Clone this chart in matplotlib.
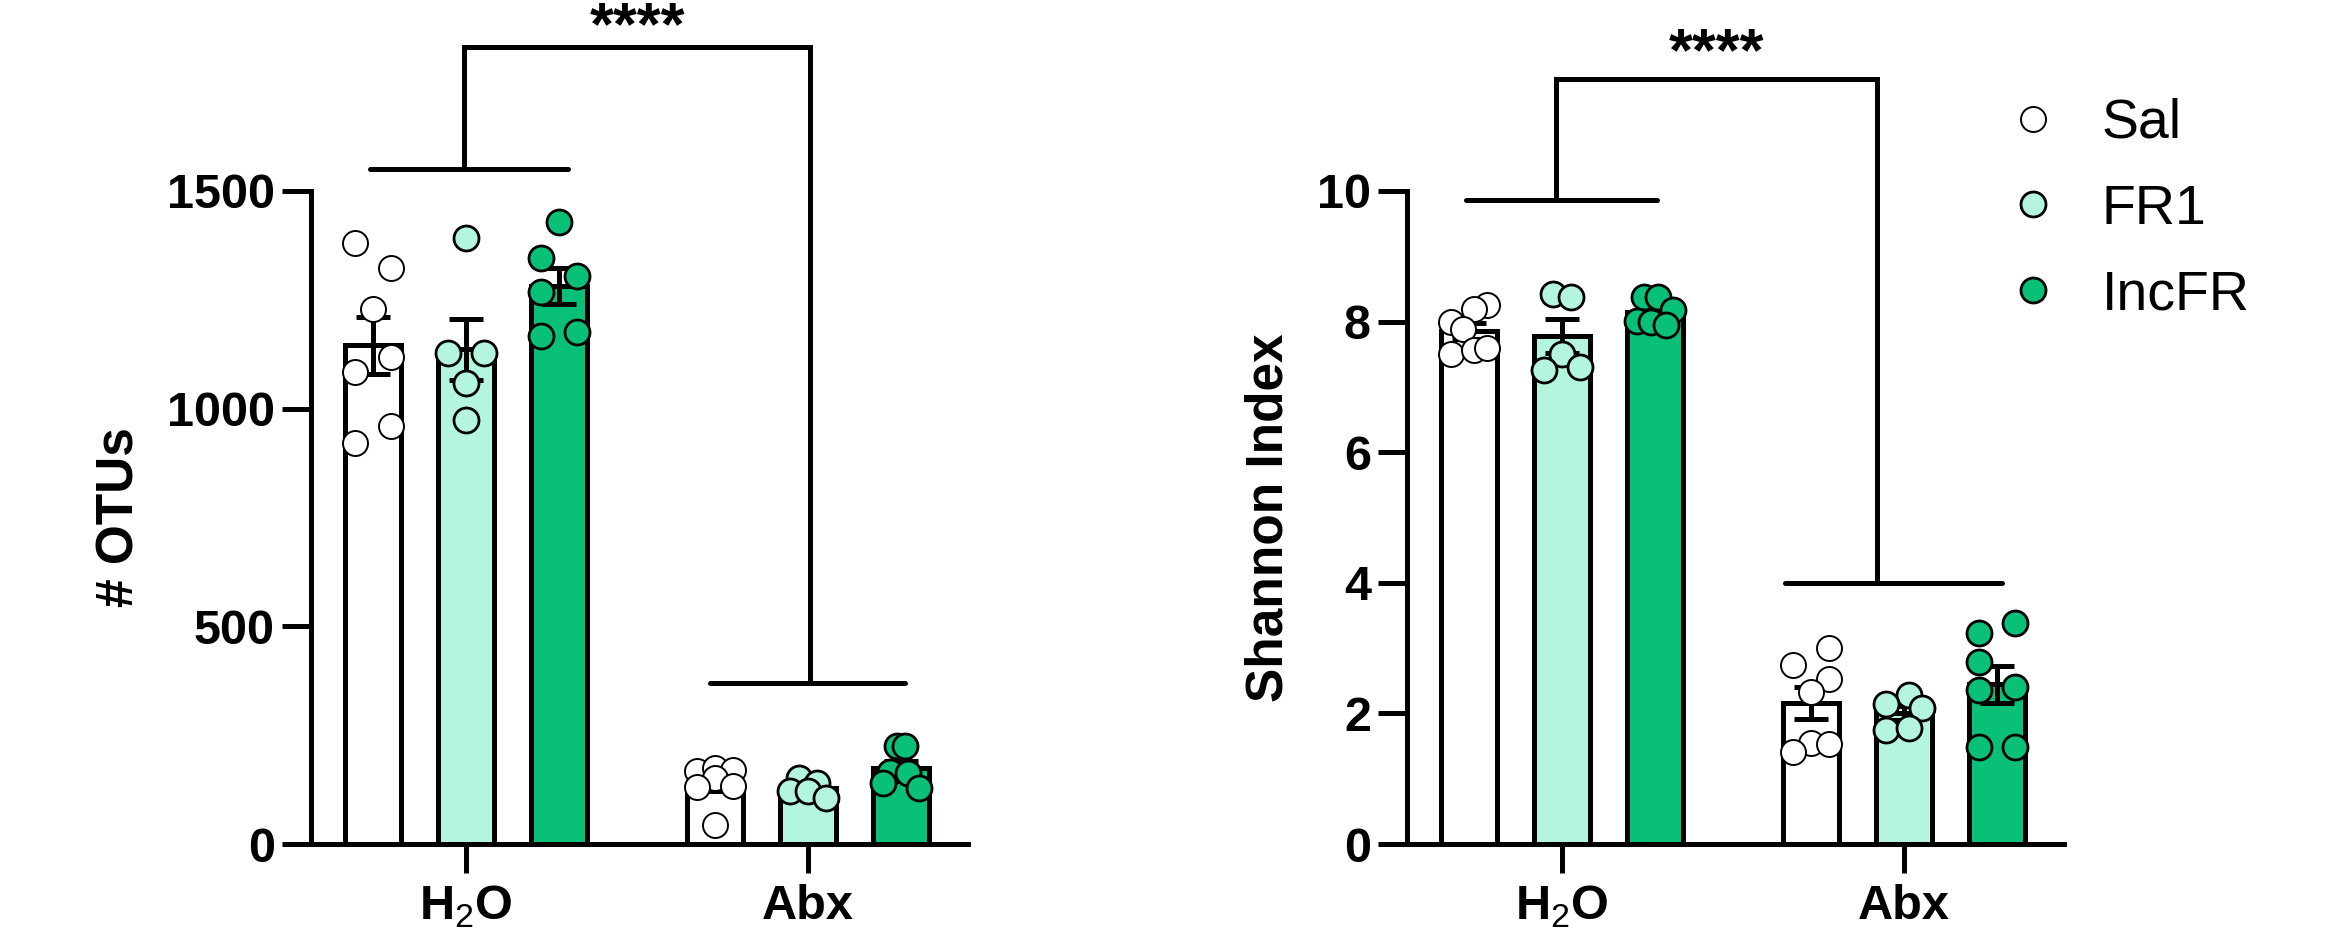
import matplotlib
matplotlib.use("Agg")
import matplotlib.pyplot as plt
from matplotlib.lines import Line2D
import numpy as np

plt.rcParams["font.family"] = ["Liberation Sans", "DejaVu Sans"]
plt.rcParams["mathtext.fontset"] = "custom"
plt.rcParams["mathtext.rm"] = "Liberation Sans"

# ---- data ----
groups = ["Sal", "FR1", "IncFR"]
conditions = ["H$_2$O", "Abx"]
colors = ["#ffffff", "#b4f5de", "#08c078"]

otus_h2o = {
    "Sal": [1380, 1322, 1228, 1119, 1085, 960, 922],
    "FR1": [1392, 1129, 1129, 1058, 975],
    "IncFR": [1428, 1346, 1305, 1268, 1166, 1175],
}
otus_abx = {
    "Sal": [168, 174, 170, 151, 130, 133, 44],
    "FR1": [151, 140, 122, 122, 105],
    "IncFR": [224, 224, 166, 163, 139, 128],
}
shannon_h2o = {
    "Sal": [8.25, 8.20, 8.00, 7.88, 7.51, 7.56, 7.59],
    "FR1": [8.43, 8.38, 7.50, 7.26, 7.31],
    "IncFR": [8.38, 8.38, 8.18, 8.01, 8.00, 7.95],
}
shannon_abx = {
    "Sal": [3.00, 2.74, 2.53, 2.33, 1.54, 1.53, 1.41],
    "FR1": [2.28, 2.15, 2.08, 1.75, 1.77],
    "IncFR": [3.38, 3.23, 2.78, 2.36, 2.40, 1.49, 1.49],
}

# horizontal scatter of the dots inside each bar (layout only, in dot widths)
jit_otus_h2o = {"Sal": [-1, 1, 0, 1, -1, 1, -1], "FR1": [0, -1, 1, 0, 0],
                "IncFR": [0, -1, 1, -1, -1, 1]}
jit_otus_abx = {"Sal": [-1, 0, 1, 0, -1, 1, 0], "FR1": [-0.5, 0.5, -1, 0, 1],
                "IncFR": [-0.25, 0.2, -0.6, 0.4, -1, 1]}
jit_sh_h2o = {"Sal": [1, 0.3, -1, -0.35, -1, 0.3, 1], "FR1": [-0.5, 0.5, 0, -1, 1],
              "IncFR": [-0.6, 0.2, 1, -1, -0.2, 0.6]}
jit_sh_abx = {"Sal": [1, -1, 1, 0, 0, 1, -1], "FR1": [0.3, -1, 1, -1, 0.3],
              "IncFR": [1, -1, -1, -1, 1, -1, 1]}

LW = 3.6
group_x = [0.0, 3.68]
bar_w = 0.6
jit_unit = 0.19


def draw_panel(ax, h2o, abx, jh2o, jabx, ymax, yticks, ylabel):
    for gi, (cond_data, cond_jit) in enumerate([(h2o, jh2o), (abx, jabx)]):
        for i, g in enumerate(groups):
            vals = np.array(cond_data[g], dtype=float)
            x = group_x[gi] + i
            m = vals.mean()
            sem = vals.std(ddof=1) / np.sqrt(len(vals))
            ax.bar(x, m, width=bar_w, color=colors[i], edgecolor="black",
                   linewidth=LW, zorder=2)
            ax.errorbar(x, m, yerr=sem, fmt="none", ecolor="black",
                        elinewidth=LW, capsize=12, capthick=LW, zorder=3)
            xs = x + np.array(cond_jit[g]) * jit_unit
            ax.plot(xs, vals, "o", ms=18, mfc=colors[i], mec="black",
                    mew=1.4 if i == 0 else 2.0, ls="none", zorder=4,
                    clip_on=False)
    ax.set_xlim(-0.667, 6.40)
    ax.set_ylim(0, ymax)
    ax.set_yticks(yticks)
    ax.set_xticks([group_x[0] + 1, group_x[1] + 1])
    ax.set_xticklabels(conditions)
    for s in ["top", "right"]:
        ax.spines[s].set_visible(False)
    for s in ["left", "bottom"]:
        ax.spines[s].set_linewidth(LW)
    ax.tick_params(axis="both", length=21, width=LW, labelsize=35, pad=5)
    ax.tick_params(axis="x", pad=8)
    for lab in ax.get_xticklabels() + ax.get_yticklabels():
        lab.set_fontweight("bold")
    ax.set_ylabel(ylabel, fontsize=37, fontweight="bold")


def bracket(ax, left_span, y_left, right_span, y_right, x_join_l, x_join_r, y_top, star_dy):
    kw = dict(color="black", lw=LW, solid_capstyle="round", clip_on=False, zorder=5)
    ax.plot(left_span, [y_left, y_left], **kw)
    ax.plot(right_span, [y_right, y_right], **kw)
    ax.plot([x_join_l, x_join_l, x_join_r, x_join_r], [y_left, y_top, y_top, y_right],
            solid_joinstyle="miter", **kw)
    ax.text((x_join_l + x_join_r) / 2, y_top + star_dy, "****", ha="center",
            va="baseline", fontsize=44, fontweight="bold", clip_on=False)


fig = plt.figure(figsize=(23.43, 9.4), dpi=100)
ax1 = fig.add_axes([311 / 2343, 96 / 940, 657 / 2343, 653 / 940])
ax2 = fig.add_axes([1407 / 2343, 96 / 940, 657 / 2343, 653 / 940])

draw_panel(ax1, otus_h2o, otus_abx, jit_otus_h2o, jit_otus_abx, 1500,
           [0, 500, 1000, 1500], "# OTUs")
draw_panel(ax2, shannon_h2o, shannon_abx, jit_sh_h2o, jit_sh_abx, 10,
           [0, 2, 4, 6, 8, 10], "Shannon Index")
ax1.yaxis.set_label_coords(-0.254, 0.5)
ax2.yaxis.set_label_coords(-0.172, 0.5)

bracket(ax1, [-0.03, 2.10], 1550, [3.63, 5.72], 370, 0.98, 4.70, 1830, 8)
bracket(ax2, [-0.03, 2.02], 9.86, [3.40, 5.73], 4.0, 0.94, 4.39, 11.71, 0.14)

handles = [Line2D([], [], marker="o", ls="none", ms=18, mfc=c, mec="black",
                  mew=1.4 if i == 0 else 2.0) for i, c in enumerate(colors)]
fig.legend(handles, groups, loc="upper left", bbox_to_anchor=(2000 / 2343, 1 - 98 / 940),
           frameon=False, fontsize=40, handlelength=1.2, handletextpad=0.63,
           labelspacing=0.61, borderpad=0, borderaxespad=0)

fig.savefig("out.png", dpi=100)
